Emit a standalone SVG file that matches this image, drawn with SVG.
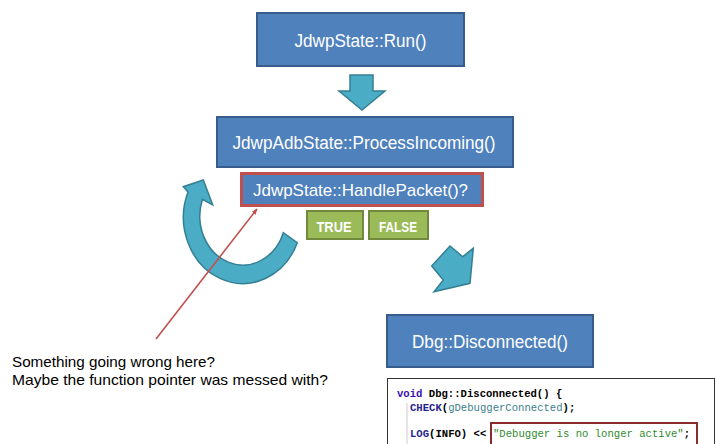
<svg xmlns="http://www.w3.org/2000/svg" width="716" height="444" viewBox="0 0 716 444">
<defs>
<style>
.box{fill:#4F81BD;stroke:#385D8A;stroke-width:2}
.btxt{font-family:"Liberation Sans",Arial,sans-serif;fill:#fff;text-anchor:middle}
.gbox{fill:#9BBB59;stroke:#71893F;stroke-width:2}
.gtxt{font-family:"Liberation Sans",Arial,sans-serif;fill:#fff;font-size:14px;font-weight:bold;text-anchor:middle}
.arrow{fill:#4BACC6;stroke:#357F93;stroke-width:1.5;stroke-linejoin:miter}
.code{font-family:"Liberation Mono","Courier New",monospace;font-size:10.6px;font-weight:bold;fill:#000}
.note{font-family:"Liberation Sans",Arial,sans-serif;font-size:15px;fill:#000}
</style>
<marker id="redhead" viewBox="0 0 10 10" refX="9" refY="5" markerWidth="6" markerHeight="6" orient="auto" markerUnits="userSpaceOnUse">
<path d="M0,1 L10,5 L0,9 Z" fill="#C0504D"/>
</marker>
</defs>

<g id="run">
<rect class="box" x="257" y="13" width="207" height="53"/>
<text class="btxt" x="360.5" y="47" font-size="18" textLength="132" lengthAdjust="spacingAndGlyphs">JdwpState::Run()</text>
</g>

<g id="process">
<rect class="box" x="217" y="117" width="296" height="50"/>
<text class="btxt" x="364" y="149" font-size="18" textLength="263" lengthAdjust="spacingAndGlyphs">JdwpAdbState::ProcessIncoming()</text>
</g>

<g id="handle">
<rect x="241.5" y="173.5" width="241" height="32" fill="#4F81BD" stroke="#C0504D" stroke-width="3"/>
<text class="btxt" x="360.5" y="195.5" font-size="17" textLength="215" lengthAdjust="spacingAndGlyphs">JdwpState::HandlePacket()?</text>
</g>

<g id="true">
<rect class="gbox" x="307" y="211" width="56" height="28"/>
<text class="gtxt" x="334" y="231.5" textLength="35" lengthAdjust="spacingAndGlyphs">TRUE</text>
</g>

<g id="false">
<rect class="gbox" x="369" y="211" width="59" height="28"/>
<text class="gtxt" x="398" y="231.5" textLength="38" lengthAdjust="spacingAndGlyphs">FALSE</text>
</g>

<g id="disconnected">
<rect class="box" x="387" y="315" width="206" height="52"/>
<text class="btxt" x="490" y="348" font-size="18" textLength="156" lengthAdjust="spacingAndGlyphs">Dbg::Disconnected()</text>
</g>

<g id="code">
<rect x="387.5" y="378.5" width="327" height="70" fill="#fff" stroke="#333" stroke-width="1"/>
<line x1="407" y1="403" x2="407" y2="444" stroke="#ccc" stroke-width="1"/>
<text class="code" x="397" y="397"><tspan fill="#3A10B0">void</tspan> Dbg::Disconnected() {</text>
<text class="code" x="410" y="411"><tspan fill="#26238F">CHECK</tspan>(<tspan fill="#3C7F8C" font-weight="normal">gDebuggerConnected</tspan>);</text>
<text class="code" x="410" y="437"><tspan fill="#26238F">LOG</tspan>(INFO) &lt;&lt;</text>
<text class="code" x="493" y="437"><tspan fill="#2E8B2E" font-weight="normal">"Debugger is no longer active"</tspan>;</text>
<rect x="491" y="423" width="206" height="30" fill="none" stroke="#8B2C2C" stroke-width="2"/>
</g>

<g id="connectors">
<polygon class="arrow" points="350,75 373,75 373,91 385,91 362,110 339,91 350,91"/>
<polygon class="arrow" points="431.7,266 450,246 462.7,256.7 473.3,248.3 470,283.3 434,291.7 443.3,280"/>
<path class="arrow" d="M297.3,242.7 A59,66 0 1 1 188,191.9 L183.3,186.7 L203.3,180 L212.7,205 L202.4,199.4 A43,49 0 1 0 283.3,232.7 Z"/>
<line x1="156" y1="339" x2="257" y2="209" stroke="#C0504D" stroke-width="1.6" marker-end="url(#redhead)"/>
</g>

<g id="note">
<text class="note" x="12" y="367" textLength="203" lengthAdjust="spacingAndGlyphs">Something going wrong here?</text>
<text class="note" x="12" y="385" textLength="316" lengthAdjust="spacingAndGlyphs">Maybe the function pointer was messed with?</text>
</g>
</svg>
